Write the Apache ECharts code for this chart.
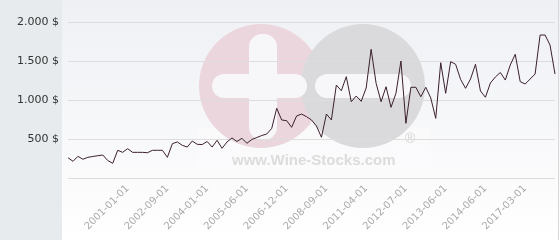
<!DOCTYPE html>
<html>
<head>
<meta charset="utf-8">
<script src="https://cdn.jsdelivr.net/npm/echarts@6/dist/echarts.min.js"></script>
<style>
html,body{margin:0;padding:0;background:#fff;}
#chart{width:560px;height:240px;}
</style>
</head>
<body>
<div id="chart"></div>
<script>
// Price series (one value per period)
const prices = [
  260, 214, 278, 240, 265, 276, 286, 295, 224, 188,
  355, 329, 376, 329, 329, 329, 324, 355, 355, 355,
  265, 440, 462, 419, 397, 474, 432, 429, 468, 397,
  483, 381, 462, 513, 468, 509, 445, 494, 519, 545,
  564, 637, 894, 744, 735, 650, 795, 820, 786, 744,
  667, 522, 820, 744, 1192, 1119, 1299, 978, 1051, 983,
  1154, 1650, 1214, 978, 1170, 906, 1086, 1500, 701, 1163,
  1163, 1042, 1163, 1026, 765, 1478, 1086, 1491, 1458, 1265,
  1150, 1269, 1458, 1115, 1035, 1218, 1295, 1353, 1256, 1449,
  1586, 1235, 1205, 1269, 1333, 1833, 1833, 1705, 1333
];
// Dates shown on the x axis
const tickLabels = ['2001-01-01','2002-09-01','2004-01-01','2005-06-01','2006-12-01',
  '2008-09-01','2011-04-01','2012-07-01','2013-06-01','2014-06-01','2017-03-01'];
const firstLabeledIndex = 12;
const labelStep = 8;
const yTicks = [0, 500, 1000, 1500, 2000];

const categories = prices.map((_, i) => {
  const k = (i - firstLabeledIndex) / labelStep;
  return (k >= 0 && Number.isInteger(k) && k < tickLabels.length) ? tickLabels[k] : '';
});

function fmt(v){
  if (v === 0) return '';
  if (v >= 1000) return Math.floor(v/1000) + '.' + String(v % 1000).padStart(3,'0') + ' $';
  return v + ' $';
}

const chart = echarts.init(document.getElementById('chart'), null, {renderer:'canvas'});
const font = 'DejaVu Sans';
chart.setOption({
  animation: false,
  graphic: [
    {type:'rect', z:0, silent:true, shape:{x:62,y:0,width:498,height:240},
      style:{fill:new echarts.graphic.LinearGradient(0,0,0,1,[{offset:0,color:'#eef0f4'},{offset:0.75,color:'#fbfbfc'},{offset:1,color:'#ffffff'}])}},
    {type:'rect', z:0, silent:true, shape:{x:0,y:0,width:62,height:240}, style:{fill:'#e7ebee'}},
    {type:'rect', z:0, silent:true, shape:{x:558,y:0,width:1,height:240}, style:{fill:'#d8d8d8'}},
    // watermark
    {type:'rect', z:1, silent:true, shape:{x:198,y:128,width:232,height:46}, style:{fill:'#ffffff', opacity:0.25}},
    {type:'circle', z:1, silent:true, shape:{cx:261,cy:86,r:62}, style:{fill:'#ecd6dd'}},
    {type:'circle', z:1, silent:true, shape:{cx:363,cy:86,r:62}, style:{fill:'#dadadc'}},
    {type:'rect', z:1, silent:true, shape:{x:249,y:34,width:28,height:106,r:13}, style:{fill:'#f7f7f9'}},
    {type:'rect', z:1, silent:true, shape:{x:212,y:74,width:95,height:24,r:12}, style:{fill:'#f7f7f9'}},
    {type:'rect', z:1, silent:true, shape:{x:315,y:74,width:96,height:24,r:12}, style:{fill:'#f7f7f9'}},
    {type:'text', z:1, silent:true, left:405, top:132, style:{text:'®', fill:'#d4d4d4', font:'14px "Liberation Sans"'}},
    {type:'text', z:1, silent:true, left:232, top:153, style:{text:'www.Wine-Stocks.com', fill:'#dcdcdc', font:'bold 15px "Liberation Sans"'}}
  ],
  grid: {left:68, right:5, top:22, bottom:62},
  xAxis: {
    type:'category', data: categories, boundaryGap:false, z:2,
    axisLine:{show:false}, axisTick:{show:false},
    axisLabel:{
      interval:(i) => categories[i] !== '',
      rotate:45, margin:9, color:'#aaaaaa', fontSize:10, fontFamily:font
    },
    splitLine:{show:false}
  },
  yAxis: {
    type:'value', min:yTicks[0], max:yTicks[yTicks.length-1], interval:500, z:2,
    axisLine:{show:false}, axisTick:{show:false},
    axisLabel:{formatter:fmt, color:'#333333', fontSize:11, fontFamily:font, margin:9},
    splitLine:{lineStyle:{color:'#dddddd', width:1}}
  },
  series: [{
    type:'line', data: prices, z:3, showSymbol:false, symbol:'none',
    lineStyle:{color:'#3b1f2e', width:1}
  }]
});
</script>
</body>
</html>
